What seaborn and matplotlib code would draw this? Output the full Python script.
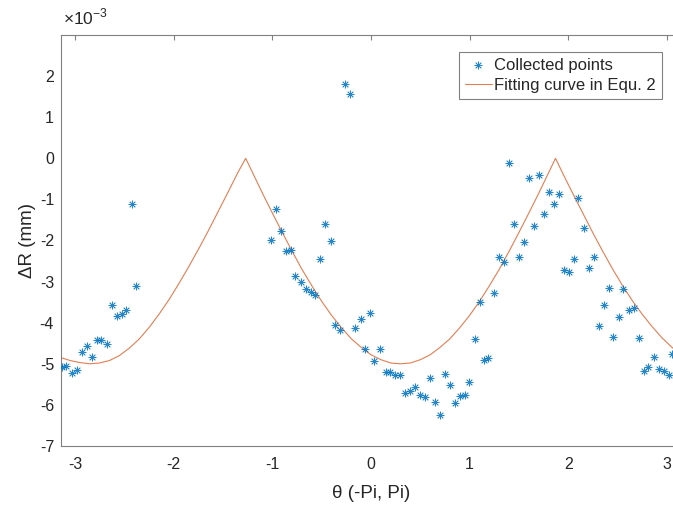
import numpy as np
import matplotlib
matplotlib.use("Agg")
import matplotlib.pyplot as plt
import seaborn as sns

sns.set_style("white")
plt.rcParams['font.family'] = ['Liberation Sans', 'DejaVu Sans']
plt.rcParams['axes.unicode_minus'] = False

# collected points (theta in rad, dR in 1e-3 mm)
theta_pts = [-3.134, -3.089, -3.032, -2.982, -2.931, -2.883, -2.830, -2.779, -2.734, -2.680,
             -2.627, -2.579, -2.528, -2.481, -2.424, -2.379,
             -1.017, -0.963, -0.916, -0.865, -0.814, -0.767, -0.713, -0.662, -0.612, -0.564,
             -0.513, -0.466, -0.409, -0.361, -0.310, -0.260, -0.209, -0.165, -0.104, -0.057,
             -0.010, 0.033, 0.095, 0.149, 0.197, 0.247, 0.291, 0.349, 0.399, 0.446,
             0.497, 0.545, 0.595, 0.646, 0.697, 0.751, 0.798, 0.852, 0.900, 0.950,
             0.998, 1.052, 1.102, 1.146, 1.187, 1.244, 1.298, 1.346, 1.400, 1.450,
             1.501, 1.552, 1.599, 1.653, 1.704, 1.752, 1.802, 1.853, 1.904, 1.957,
             2.005, 2.059, 2.099, 2.157, 2.211, 2.259, 2.312, 2.357, 2.411, 2.454,
             2.509, 2.556, 2.610, 2.664, 2.712, 2.763, 2.810, 2.867, 2.914, 2.965,
             3.016, 3.050]
dr_pts = [-5.07, -5.06, -5.23, -5.16, -4.71, -4.57, -4.84, -4.43, -4.43, -4.51,
          -3.56, -3.84, -3.80, -3.68, -1.11, -3.10,
          -1.98, -1.24, -1.76, -2.25, -2.23, -2.86, -3.02, -3.17, -3.26, -3.33,
          -2.44, -1.60, -2.01, -4.06, -4.17, 1.80, 1.57, -4.14, -3.92, -4.64,
          -3.76, -4.94, -4.65, -5.19, -5.19, -5.28, -5.28, -5.70, -5.66, -5.57,
          -5.75, -5.81, -5.34, -5.93, -6.24, -5.24, -5.52, -5.96, -5.78, -5.75,
          -5.44, -4.40, -3.50, -4.91, -4.85, -3.28, -2.39, -2.53, -0.12, -1.59,
          -2.40, -2.04, -0.47, -1.65, -0.40, -1.35, -0.82, -1.12, -0.88, -2.71,
          -2.76, -2.44, -0.96, -1.69, -2.66, -2.41, -4.07, -3.57, -3.16, -4.35,
          -3.87, -3.17, -3.68, -3.65, -4.37, -5.18, -5.09, -4.84, -5.13, -5.17,
          -5.28, -4.76]

# fitting curve
theta_fit = [-3.1416, -3.05, -2.95, -2.85, -2.75, -2.65, -2.55, -2.45, -2.35, -2.25,
             -2.15, -2.05, -1.95, -1.85, -1.75, -1.65, -1.55, -1.45, -1.35, -1.27,
             -1.2, -1.1, -1.0, -0.9, -0.8, -0.7, -0.6, -0.5, -0.4, -0.3,
             -0.2, -0.1, 0.0, 0.1, 0.2, 0.3, 0.4, 0.5, 0.6, 0.7,
             0.8, 0.9, 1.0, 1.1, 1.2, 1.3, 1.4, 1.5, 1.6, 1.7,
             1.8, 1.87, 1.95, 2.05, 2.15, 2.25, 2.35, 2.45, 2.55, 2.65,
             2.75, 2.85, 2.95, 3.05, 3.1416]
dr_fit = [-4.85, -4.92, -4.97, -5.00, -4.98, -4.92, -4.80, -4.62, -4.40, -4.12,
          -3.80, -3.45, -3.06, -2.65, -2.22, -1.77, -1.30, -0.83, -0.35, 0.0,
          -0.35, -0.85, -1.33, -1.80, -2.26, -2.70, -3.10, -3.48, -3.82, -4.12,
          -4.39, -4.60, -4.78, -4.90, -4.98, -5.00, -4.98, -4.90, -4.78, -4.60,
          -4.39, -4.12, -3.82, -3.48, -3.10, -2.70, -2.26, -1.80, -1.33, -0.85,
          -0.35, 0.0, -0.40, -0.88, -1.35, -1.82, -2.27, -2.70, -3.10, -3.47,
          -3.80, -4.10, -4.37, -4.60, -4.78]

blue = "#0072BD"
orange = "#D95319"
gray = "#262626"

fig = plt.figure(figsize=(6.73, 5.09), dpi=100)
ax = fig.add_axes([61/673, 1 - 446/509, (681 - 61)/673, (446 - 35)/509])

sns.scatterplot(x=theta_pts, y=dr_pts, ax=ax, marker=(8, 2, 0), s=26,
                color=blue, linewidth=0.6, alpha=0.85, label="Collected points", zorder=3)
sns.lineplot(x=theta_fit, y=dr_fit, ax=ax, color=orange, lw=0.8, alpha=0.75,
             estimator=None, label="Fitting curve in Equ. 2")

ax.set_xlim(-np.pi, np.pi)
ax.set_ylim(-7, 3)
ax.set_xticks([-3, -2, -1, 0, 1, 2, 3])
ax.set_yticks([-7, -6, -5, -4, -3, -2, -1, 0, 1, 2])

for sp in ax.spines.values():
    sp.set_color("#808080")
    sp.set_linewidth(0.8)
ax.tick_params(direction="in", top=True, right=True, length=3.5, width=0.8,
               color="#808080", labelsize=11.5, labelcolor=gray)
ax.tick_params(axis="x", pad=8)
ax.tick_params(axis="y", pad=5)

ax.set_xlabel("θ (-Pi, Pi)", fontsize=13.5, color=gray, labelpad=9)
ax.set_ylabel("ΔR (mm)", fontsize=13.5, color=gray, labelpad=3)
ax.text(0.003, 1.018, "×10$^{\\mathregular{-3}}$", transform=ax.transAxes,
        fontsize=12.5, color=gray, ha="left", va="bottom")

leg = ax.legend(loc="upper right", bbox_to_anchor=(0.969, 0.959), borderaxespad=0,
                fontsize=12, frameon=True, fancybox=False, framealpha=1,
                edgecolor="#808080", handlelength=1.6, handletextpad=0.15,
                labelspacing=0.3, borderpad=0.35)
leg.get_frame().set_linewidth(0.8)
for t in leg.get_texts():
    t.set_color(gray)

fig.savefig("out.png", dpi=100)
